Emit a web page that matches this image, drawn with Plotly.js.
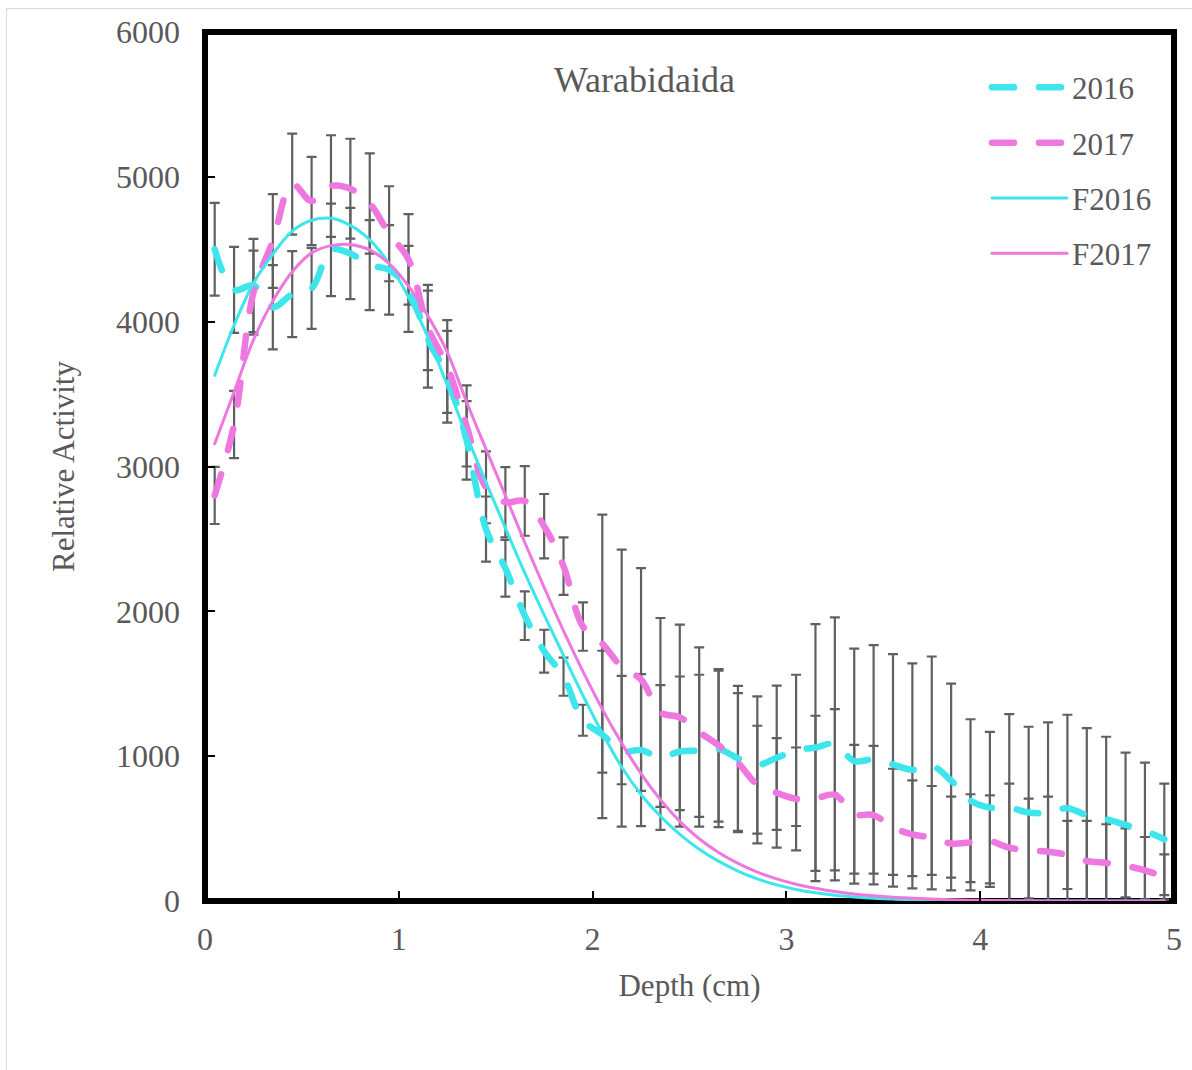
<!DOCTYPE html>
<html>
<head>
<meta charset="utf-8">
<script src="https://cdn.plot.ly/plotly-3.0.1.min.js"></script>
<style>
  html, body { margin: 0; padding: 0; background: #ffffff; }
  #wrap { position: relative; width: 1192px; height: 1070px; overflow: hidden; }
  #frame { position: absolute; left: 6px; top: 8px; width: 1300px; height: 1200px;
           border-left: 1.5px solid #d9d9d9; border-top: 1.5px solid #d9d9d9; pointer-events: none; z-index: 5; }
  #chart { position: absolute; left: 0; top: 0; width: 1192px; height: 1070px; }
  .scatterlayer .js-line, .legendlines path { stroke-linecap: round; }
</style>
</head>
<body>
<div id="wrap">
  <div id="chart"></div>
  <div id="frame"></div>
</div>
<script>
// Depth (cm) of each sample slice
var depth = [0.05,0.15,0.25,0.35,0.45,0.55,0.65,0.75,0.85,0.95,
             1.05,1.15,1.25,1.35,1.45,1.55,1.65,1.75,1.85,1.95,
             2.05,2.15,2.25,2.35,2.45,2.55,2.65,2.75,2.85,2.95,
             3.05,3.15,3.25,3.35,3.45,3.55,3.65,3.75,3.85,3.95,
             4.05,4.15,4.25,4.35,4.45,4.55,4.65,4.75,4.85,4.95];

// Measured relative activity, 2016
var act2016 = [4500,4220,4250,4100,4190,4230,4496,4470,4390,4357,
               4226,3880,3620,3180,2568,2297,1970,1725,1549,1248,
               1150,1034,1042,991,1032,1038,1050,985,939,989,
               1040,1060,1085,966,978,942,906,934,831,693,
               645,644,611,610,641,592,565,525,484,426];
var err2016 = [320,297,322,291,297,280,319,315,311,309,
               297,335,317,271,225,196,168,148,132,107,
               578,521,525,500,518,524,540,500,474,498,
               522,852,873,777,789,762,734,754,670,562,
               523,646,592,623,645,601,569,500,472,385];

// Measured relative activity, 2017
var act2017 = [2800,3290,4200,4557,4950,4833,4936,4918,4816,4607,
               4430,3960,3690,3280,2856,2753,2762,2588,2312,1895,
               1777,1616,1529,1302,1268,1166,1075,955,804,747,
               705,708,734,599,593,506,460,437,397,405,
               413,368,350,340,318,276,263,242,212,166];
var err2017 = [197,232,290,323,349,305,351,345,346,328,
               312,294,320,280,248,242,240,222,199,167,
               891,810,769,652,640,585,527,480,406,378,
               355,571,591,479,478,407,373,357,324,332,
               316,443,357,381,235,277,267,260,230,156];

// Fitted curves
var fit2016 = [3629,3975,4265,4466,4625,4700,4714,4665,4565,4400,
               4170,3895,3560,3215,2890,2575,2265,1975,1695,1420,
               1160,925,735,585,460,358,275,207,153,111,
               80,57,40,28,19,13,8,5,3,2,
               1,0,0,0,0,0,0,0,0,0];
var fit2017 = [3157,3515,3874,4143,4345,4475,4525,4533,4495,4400,
               4245,4040,3790,3445,3120,2800,2475,2165,1865,1585,
               1325,1090,880,700,550,430,335,260,200,153,
               116,88,66,49,36,26,19,13,9,6,
               4,2,1,0,0,0,0,0,0,0];

var seriesNames = ['2016','2017','F2016','F2017'];
var xTitle = 'Depth (cm)';
var yTitle = 'Relative Activity';
var chartTitle = 'Warabidaida';

var CYAN = '#3de6ec';
var PINK = '#ee78df';
var GREY = '#595959';
var BARC = '#606060';
var FONT = '"Liberation Serif", "Times New Roman", serif';

var traces = [
  // error bars (drawn beneath the lines)
  {x: depth, y: act2016, type: 'scatter', mode: 'markers', marker: {opacity: 0, size: 1},
   error_y: {type: 'data', array: err2016, visible: true, color: BARC, thickness: 2.2, width: 5},
   showlegend: false, hoverinfo: 'skip'},
  {x: depth, y: act2017, type: 'scatter', mode: 'markers', marker: {opacity: 0, size: 1},
   error_y: {type: 'data', array: err2017, visible: true, color: BARC, thickness: 2.2, width: 5},
   showlegend: false, hoverinfo: 'skip'},
  {x: depth, y: act2016, type: 'scatter', mode: 'lines', name: seriesNames[0], legendgroup: 'a',
   line: {color: CYAN, width: 6.5, dash: '22px,25px', shape: 'spline', smoothing: 1}},
  {x: depth, y: act2017, type: 'scatter', mode: 'lines', name: seriesNames[1], legendgroup: 'b',
   line: {color: PINK, width: 6.5, dash: '22px,25px', shape: 'spline', smoothing: 1}},
  {x: depth, y: fit2016, type: 'scatter', mode: 'lines', name: seriesNames[2], legendgroup: 'c',
   line: {color: CYAN, width: 3, shape: 'spline', smoothing: 1}},
  {x: depth, y: fit2017, type: 'scatter', mode: 'lines', name: seriesNames[3], legendgroup: 'd',
   line: {color: PINK, width: 3, shape: 'spline', smoothing: 1}}
];

var axisCommon = {
  showgrid: false, zeroline: false, showline: false,
  ticks: 'inside', ticklen: 10, tickwidth: 2, tickcolor: '#000000',
  tickfont: {family: FONT, size: 32, color: GREY},
  fixedrange: true
};

var layout = {
  width: 1192, height: 1070,
  margin: {l: 205, r: 18, t: 32, b: 169, pad: 0},
  paper_bgcolor: '#ffffff', plot_bgcolor: '#ffffff',
  font: {family: FONT, color: GREY},
  showlegend: true,
  legend: {x: 0.807, y: 0.967, xanchor: 'left', yanchor: 'top', bgcolor: 'rgba(0,0,0,0)',
           font: {family: FONT, size: 31, color: GREY}, itemwidth: 75, tracegroupgap: 12},
  xaxis: Object.assign({}, axisCommon, {range: [0, 5], dtick: 1, tick0: 0, ticklabelstandoff: 16,
          title: {text: xTitle, font: {family: FONT, size: 31, color: GREY}, standoff: 18}}),
  yaxis: Object.assign({}, axisCommon, {range: [0, 6000], dtick: 1000, tick0: 0, ticklabelstandoff: 24,
          title: {text: yTitle, font: {family: FONT, size: 31, color: GREY}, standoff: 32}}),
  shapes: [{type: 'rect', xref: 'paper', yref: 'paper', x0: 0, x1: 1, y0: 0, y1: 1,
            line: {color: '#000000', width: 6}, layer: 'below'}],
  annotations: [{text: chartTitle, xref: 'paper', yref: 'paper', x: 0.454, y: 0.945,
                 xanchor: 'center', yanchor: 'middle', showarrow: false,
                 font: {family: FONT, size: 36, color: GREY}}]
};

Plotly.newPlot('chart', traces, layout, {displayModeBar: false, staticPlot: true});
</script>
</body>
</html>
